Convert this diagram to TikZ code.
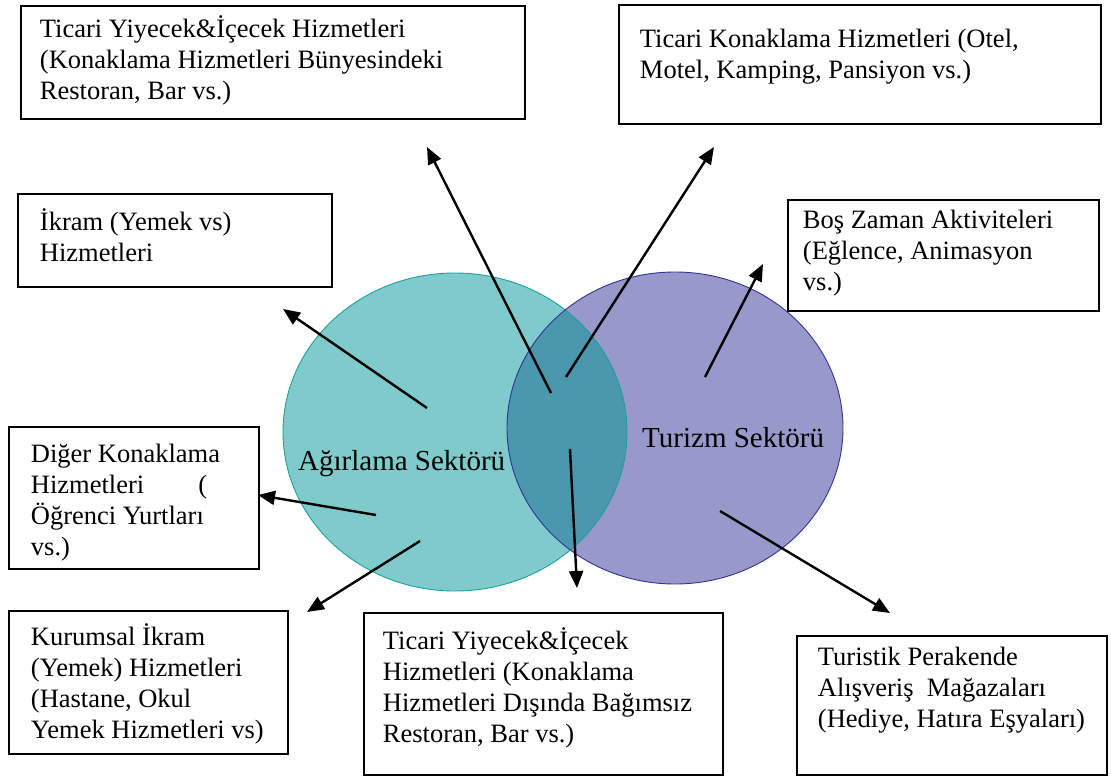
\documentclass[tikz,border=0pt]{standalone}
\usepackage{fontspec}
\setmainfont{Liberation Serif}
\usetikzlibrary{arrows.meta}

\definecolor{agfill}{RGB}{127,203,203}
\definecolor{agline}{RGB}{30,160,160}
\definecolor{tufill}{RGB}{152,152,202}
\definecolor{tuline}{RGB}{50,50,150}
\definecolor{ovfill}{RGB}{74,151,174}

% text block: width, height, left padding, first-line height, lines
\newcommand{\boxtext}[5]{\parbox[t][#2][t]{#1}{\raggedright\leftskip=#3\relax\rule{0pt}{#4}#5}}

\begin{document}
\begin{tikzpicture}[x=1pt,y=-1pt,
  textbox/.style={draw=black, line width=1.9pt, inner sep=0pt, anchor=north west,
    font=\fontsize{26.5}{31}\selectfont},
  sector/.style={anchor=base west, inner sep=0pt, font=\fontsize{29}{34}\selectfont},
  arr/.style={-{Triangle[length=17pt,width=14pt]}, line width=2.4pt}]
\useasboundingbox (0,0) rectangle (1111,776);

% the two sectors and their overlap
\fill[agfill] (455,432) ellipse [x radius=172pt, y radius=159pt];
\fill[tufill] (675,428) ellipse [x radius=168pt, y radius=156pt];
\begin{scope}
  \clip (455,432) ellipse [x radius=172pt, y radius=159pt];
  \fill[ovfill] (675,428) ellipse [x radius=168pt, y radius=156pt];
\end{scope}
\draw[agline, line width=0.9pt] (455,432) ellipse [x radius=172pt, y radius=159pt];
\draw[tuline, line width=0.9pt] (675,428) ellipse [x radius=168pt, y radius=156pt];

\node[sector] (agirlama) at (298,470) {Ağırlama Sektörü};
\node[sector] (turizm) at (642,447) {Turizm Sektörü};

% service boxes
\node[textbox] (ticariic) at (20,5) {\boxtext{504pt}{113pt}{19pt}{32pt}{%
  Ticari Yiyecek\&İçecek Hizmetleri\\
  (Konaklama Hizmetleri Bünyesindeki\\
  Restoran, Bar vs.)}};
\node[textbox] (konak) at (618,4) {\boxtext{482pt}{119pt}{21pt}{43pt}{%
  Ticari Konaklama Hizmetleri (Otel,\\
  Motel, Kamping, Pansiyon vs.)}};
\node[textbox] (ikram) at (17,193) {\boxtext{314pt}{93pt}{22pt}{37pt}{%
  İkram (Yemek vs)\\
  Hizmetleri}};
\node[textbox] (bos) at (787,199) {\boxtext{311pt}{111pt}{15pt}{29pt}{%
  Boş Zaman Aktiviteleri\\
  (Eğlence, Animasyon\\
  vs.)}};
\node[textbox] (diger) at (8,426) {\boxtext{250pt}{142pt}{22pt}{36pt}{%
  Diğer Konaklama\\
  Hizmetleri\hspace{54pt}(\\
  Öğrenci Yurtları\\
  vs.)}};
\node[textbox] (kurumsal) at (8,610) {\boxtext{279pt}{143pt}{22pt}{35pt}{%
  Kurumsal İkram\\
  (Yemek) Hizmetleri\\
  (Hastane, Okul\\
  Yemek Hizmetleri vs)}};
\node[textbox] (ticaridis) at (363,612) {\boxtext{359pt}{162pt}{19pt}{37pt}{%
  Ticari Yiyecek\&İçecek\\
  Hizmetleri (Konaklama\\
  Hizmetleri Dışında Bağımsız\\
  Restoran, Bar vs.)}};
\node[textbox] (turistik) at (796,635) {\boxtext{310pt}{139pt}{21pt}{30pt}{%
  Turistik Perakende\\
  Alışveriş\ \ Mağazaları\\
  (Hediye, Hatıra Eşyaları)}};

% arrow ends
\coordinate (s1) at (551,393); \coordinate (t1) at (427,147);
\coordinate (s2) at (566,377); \coordinate (t2) at (714,147);
\coordinate (s3) at (427,408); \coordinate (t3) at (283,309);
\coordinate (s4) at (705,377); \coordinate (t4) at (763,264);
\coordinate (s5) at (376,515); \coordinate (t5) at (258,495);
\coordinate (s6) at (420,541); \coordinate (t6) at (307,612);
\coordinate (s7) at (570,449); \coordinate (t7) at (577,588);
\coordinate (s8) at (720,511); \coordinate (t8) at (890,613);

\foreach \i in {1,...,8} \draw[arr] (s\i) -- (t\i);
\end{tikzpicture}
\end{document}
